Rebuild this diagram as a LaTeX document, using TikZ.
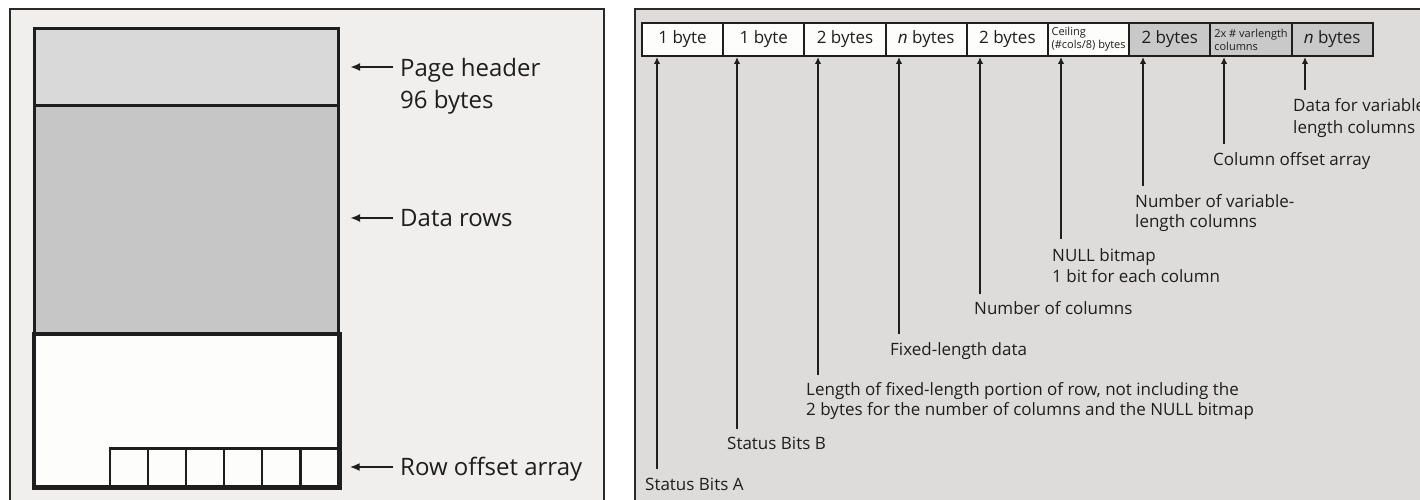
\documentclass[tikz,border=0pt]{standalone}
\usepackage{fontspec}
\setmainfont{Open Sans}
\usetikzlibrary{arrows.meta,calc}

\definecolor{ink}{HTML}{1E1E1E}
\definecolor{framec}{HTML}{2A2A2A}
\definecolor{leftbg}{HTML}{F0EFEE}
\definecolor{rightbg}{HTML}{DDDCDB}
\definecolor{hdrfill}{HTML}{D9D9D9}
\definecolor{rowfill}{HTML}{C6C6C6}
\definecolor{freefill}{HTML}{FDFDFB}
\definecolor{graybox}{HTML}{C9C9C9}

\begin{document}
\begin{tikzpicture}[x=1pt,y=-1pt,
  panel/.style={draw=framec, line width=2.5pt},
  region/.style={draw=ink, line width=3pt, inner sep=0pt, anchor=north west},
  slot/.style={draw=ink, line width=2.6pt, fill=freefill, inner sep=0pt,
    minimum width=38.07pt, minimum height=38pt, anchor=north west},
  field/.style={draw=ink, line width=2pt, inner sep=0pt, minimum width=81.2pt,
    minimum height=33pt, text=ink, font=\fontsize{17}{20}\selectfont},
  tiny/.style={font=\fontsize{11}{13}\selectfont, align=left, inner sep=0pt},
  biglbl/.style={anchor=base west, inner sep=0pt, text=ink,
    font=\fontsize{24}{28}\selectfont},
  lbl/.style={anchor=base west, inner sep=0pt, text=ink,
    font=\fontsize{17}{20}\selectfont},
  larr/.style={draw=ink, line width=2.4pt, -{Latex[length=10pt,width=8pt]}},
  uarr/.style={draw=ink, line width=2pt, -{Latex[length=7pt,width=6.5pt]}},
]
\useasboundingbox (0,0) rectangle (1420,500);
\clip (0,0) rectangle (1420,500);
\fill[white] (0,0) rectangle (1420,500);

% the two panels, both running past the lower edge
\draw[panel, fill=leftbg] (10,9) rectangle (604,530);
\draw[panel, fill=rightbg] (635,9) rectangle (1450,530);

% ---------- data page ----------
\node[region, fill=hdrfill, minimum width=304pt, minimum height=77pt] (hdr) at (33,27) {};
\node[region, fill=rowfill, minimum width=304pt, minimum height=229pt] (rows) at (33,104) {};
\node[region, fill=freefill, minimum width=304pt, minimum height=152pt] (free) at (33,333) {};
\node[slot] (s1) at (108.6,447) {};
\node[slot] (s2) at (146.67,447) {};
\node[slot] (s3) at (184.74,447) {};
\node[slot] (s4) at (222.81,447) {};
\node[slot] (s5) at (260.88,447) {};
\node[slot] (s6) at (298.95,447) {};
\draw[ink, line width=3pt] (free.north west) rectangle (free.south east);

\node[biglbl] (lPH) at (400,76.5) {Page header};
\node[biglbl] (lPB) at (400,109) {96 bytes};
\node[biglbl] (lDR) at (400,226.5) {Data rows};
\node[biglbl] (lRO) at (400,475) {Row offset array};

\coordinate (aPH) at (393,67);
\coordinate (aDR) at (393,218);
\coordinate (aRO) at (393,467);
\draw[larr] (aPH) -- ($(hdr.east |- aPH)+(10,0)$);
\draw[larr] (aDR) -- ($(rows.east |- aDR)+(10,0)$);
\draw[larr] (aRO) -- ($(s6.east |- aRO)+(10,0)$);

% ---------- row layout ----------
\node[field, fill=freefill] (b1) at (682.6,39.5) {1 byte};
\node[field, fill=freefill] (b2) at (763.8,39.5) {1 byte};
\node[field, fill=freefill] (b3) at (845.0,39.5) {2 bytes};
\node[field, fill=freefill] (b4) at (926.2,39.5) {\textit{n} bytes};
\node[field, fill=freefill] (b5) at (1007.4,39.5) {2 bytes};
\node[field, fill=freefill] (b6) at (1088.6,39.5) {};
\node[tiny, text=ink] (t6) at (b6.center) {Ceiling\\(\#cols/8) bytes};
\node[field, fill=graybox] (b7) at (1169.8,39.5) {2 bytes};
\node[field, fill=graybox] (b8) at (1251.0,39.5) {};
\node[tiny, text=ink] (t8) at (b8.center) {2x \# varlength\\columns};
\node[field, fill=graybox] (b9) at (1332.2,39.5) {\textit{n} bytes};

% labels under the row
\node[lbl] (lA) at (645,490) {Status Bits A};
\node[lbl] (lB) at (727,449) {Status Bits B};
\node[lbl] (lC1) at (806,395) {Length of fixed-length portion of row, not including the};
\node[lbl] (lC2) at (806,415) {2 bytes for the number of columns and the NULL bitmap};
\node[lbl] (lD) at (890,355) {Fixed-length data};
\node[lbl] (lE) at (974,314) {Number of columns};
\node[lbl] (lF1) at (1052,261) {NULL bitmap};
\node[lbl] (lF2) at (1052,282) {1 bit for each column};
\node[lbl] (lG1) at (1135,207) {Number of variable-};
\node[lbl] (lG2) at (1135,227) {length columns};
\node[lbl] (lH) at (1213,165) {Column offset array};
\node[lbl] (lI1) at (1293,112) {Data for variable};
\node[lbl] (lI2) at (1293,133) {length columns};

% pointer lines from each label up to its field
\coordinate (tA) at (657,469);
\coordinate (tB) at (737,429);
\coordinate (tC) at (818,375);
\coordinate (tD) at (899,334);
\coordinate (tE) at (980,294);
\coordinate (tF) at (1061,239);
\coordinate (tG) at (1143,186);
\coordinate (tH) at (1224,144);
\coordinate (tI) at (1305,90);
\draw[uarr] (tA) -- (tA |- b1.south);
\draw[uarr] (tB) -- (tB |- b2.south);
\draw[uarr] (tC) -- (tC |- b3.south);
\draw[uarr] (tD) -- (tD |- b4.south);
\draw[uarr] (tE) -- (tE |- b5.south);
\draw[uarr] (tF) -- (tF |- b6.south);
\draw[uarr] (tG) -- (tG |- b7.south);
\draw[uarr] (tH) -- (tH |- b8.south);
\draw[uarr] (tI) -- (tI |- b9.south);
\end{tikzpicture}
\end{document}
